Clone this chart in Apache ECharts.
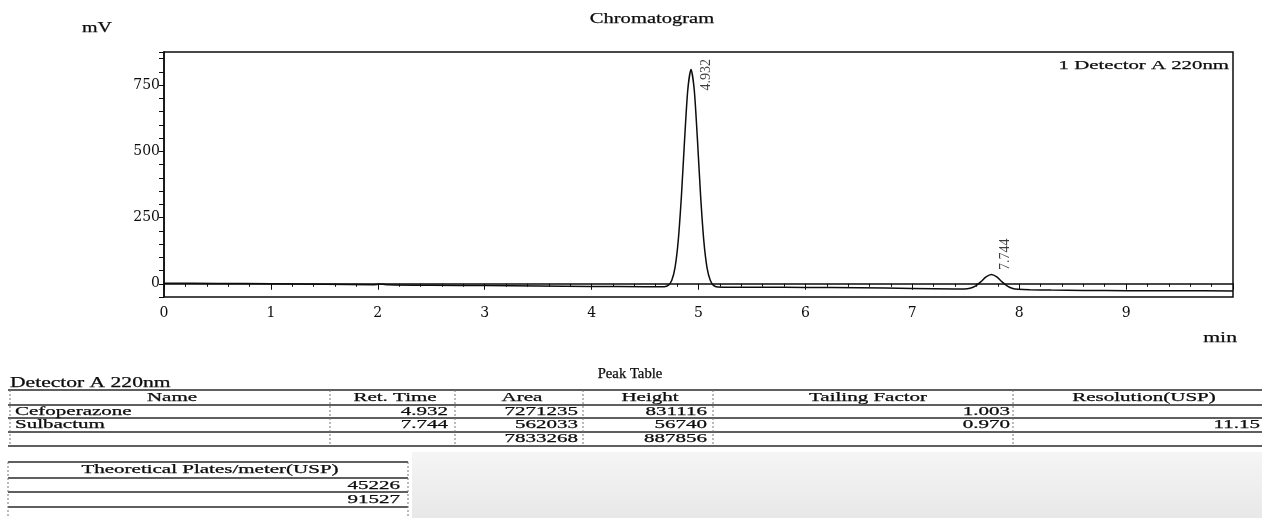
<!DOCTYPE html>
<html><head><meta charset="utf-8">
<script src="https://cdn.jsdelivr.net/npm/echarts@6/dist/echarts.min.js"></script>
<style>html,body{margin:0;padding:0;background:#fff}#c{width:1262px;height:518px}</style>
</head><body><div id="c"></div>
<script>
// ---- chromatogram trace ----
const traceTime = [0, 0.5, 1.0, 1.5, 1.95, 2.03, 2.1, 2.5, 3.0, 3.5, 4.0, 4.5,
  4.68, 4.72, 4.75, 4.78, 4.81, 4.84, 4.87, 4.90, 4.93, 4.96, 4.99, 5.02, 5.05, 5.08, 5.11, 5.14, 5.18,
  5.3, 5.6, 6.0, 6.5, 7.0, 7.4,
  7.49, 7.54, 7.59, 7.64, 7.69, 7.74, 7.79, 7.84, 7.89, 7.94, 7.99,
  8.1, 8.3, 8.6, 9.0, 9.5, 10.0];
const traceMV = [2, 1, 0, -2, -4, -1, -4, -6, -7, -8, -10, -11,
  -11, -5, 13, 60, 161, 330, 545, 733, 809, 733, 545, 330, 161, 60, 13, -6, -12,
  -13, -13, -14, -15, -18, -20,
  -20, -17, -9, 7, 26, 35, 26, 7, -9, -18, -21,
  -23, -24, -25, -26, -26, -27];
const peakTimes = [4.932, 7.744];
const peakApexMV = [809, 35];
const peakLabels = ['4.932', '7.744'];

// ---- texts ----
const chartTitle = 'Chromatogram';
const yUnit = 'mV';
const xUnit = 'min';
const traceName = '1 Detector A 220nm';
const tableTitle = 'Peak Table';
const detectorName = 'Detector A 220nm';
const tableHeaders = ['Name', 'Ret. Time', 'Area', 'Height', 'Tailing Factor', 'Resolution(USP)'];
const peakNames = ['Cefoperazone', 'Sulbactum', ''];
const retTimes = ['4.932', '7.744', ''];
const areas = ['7271235', '562033', '7833268'];
const heights = ['831116', '56740', '887856'];
const tailing = ['1.003', '0.970', ''];
const resolution = ['', '11.15', ''];
const platesHeader = 'Theoretical Plates/meter(USP)';
const plates = ['45226', '91527', ''];

const INK = '#0d0d0d';
const SERIF = '"Liberation Serif", "Times New Roman", serif';

function txt(text, x, y, size, align, sx) {
  return { type: 'text', x: x, y: y, scaleX: sx || 1, z: 10,
    style: { text: text, font: size + 'px ' + SERIF, fill: INK,
      stroke: INK, lineWidth: 0.25,
      align: align || 'left', textAlign: align || 'left',
      verticalAlign: 'middle', textVerticalAlign: 'middle' } };
}
function ln(x1, y1, x2, y2, dashed) {
  return { type: 'line', z: 5, shape: { x1: x1, y1: y1, x2: x2, y2: y2 },
    style: { stroke: dashed ? '#777' : '#2a2a2a', lineWidth: dashed ? 1 : 1.3, lineDash: dashed ? [2, 2] : null } };
}

const graphics = [];
// scan shadow
graphics.push({ type: 'rect', z: 0, shape: { x: 412, y: 452, width: 850, height: 66 },
  style: { fill: new echarts.graphic.LinearGradient(0, 0, 0, 1, [
    { offset: 0, color: '#f5f5f5' }, { offset: 1, color: '#e8e8e8' }]) } });

graphics.push(txt(chartTitle, 652, 19, 15, 'center', 1.37));
graphics.push(txt(yUnit, 82, 28, 14, 'left', 1.43));
graphics.push(txt(xUnit, 1237, 338, 15, 'right', 1.45));
graphics.push(txt(traceName, 1229, 66, 13, 'right', 1.6));

// peak table
graphics.push(txt(tableTitle, 630, 374, 14, 'center', 1.05));
graphics.push(txt(detectorName, 10, 383, 14, 'left', 1.54));
const rowLines = [390, 405, 418, 432, 446];
rowLines.forEach(y => graphics.push(ln(8, y, 1262, y)));
const colLines = [10, 330, 455, 583, 713, 1013];
colLines.forEach(x => graphics.push(ln(x, 390, x, 446, true)));
const headerCenters = [172, 395, 522, 650, 868, 1144];
const TS = 1.75;
tableHeaders.forEach((h, i) => graphics.push(txt(h, headerCenters[i], 398, 12, 'center', TS)));
const rowY = [412, 425, 439];
const colRight = [448, 578, 707, 1010, 1260];
const colData = [retTimes, areas, heights, tailing, resolution];
for (let r = 0; r < 3; r++) {
  if (peakNames[r]) graphics.push(txt(peakNames[r], 15, rowY[r], 12, 'left', TS));
  colData.forEach((arr, c) => { if (arr[r]) graphics.push(txt(arr[r], colRight[c], rowY[r], 12, 'right', TS)); });
}
// plates table
const pLines = [462, 478, 492, 507];
pLines.forEach(y => graphics.push(ln(8, y, 408, y)));
graphics.push(ln(8, 462, 8, 518, true));
graphics.push(ln(408, 462, 408, 518, true));
graphics.push(txt(platesHeader, 210, 470, 12, 'center', TS));
const pRowY = [486, 500, 513];
plates.forEach((v, i) => { if (v) graphics.push(txt(v, 400, pRowY[i], 12, 'right', TS)); });

const chart = echarts.init(document.getElementById('c'), null, { renderer: 'canvas' });
chart.setOption({
  backgroundColor: '#ffffff',
  animation: false,
  grid: { left: 164, right: 29, top: 52, bottom: 221, show: true, borderColor: INK, borderWidth: 1.5, backgroundColor: 'transparent' },
  xAxis: {
    type: 'value', min: 0, max: 10, interval: 1,
    axisLine: { show: true, lineStyle: { color: INK, width: 1.5 } },
    axisTick: { show: true, length: 6, lineStyle: { color: INK } },
    minorTick: { show: true, splitNumber: 5, length: 3, lineStyle: { color: INK } },
    splitLine: { show: false },
    axisLabel: { margin: 9, color: INK, fontFamily: '"DejaVu Serif", serif', fontSize: 14,
      formatter: v => (v < 10 ? String(v) : '') }
  },
  yAxis: {
    type: 'value', min: -50, max: 875, interval: 50,
    axisLine: { show: true, lineStyle: { color: INK, width: 1.5 } },
    axisTick: { show: true, length: 5, lineStyle: { color: INK } },
    splitLine: { show: false },
    axisLabel: { margin: 4, color: INK, fontFamily: '"DejaVu Serif", serif', fontSize: 14,
      formatter: v => ([0, 250, 500, 750].indexOf(v) >= 0 ? String(v) : '') }
  },
  series: [
    { type: 'line', data: traceTime.map((t, i) => [t, traceMV[i]]), showSymbol: false, smooth: 0.25,
      lineStyle: { color: INK, width: 1.5 }, z: 3 },
    { type: 'scatter', symbolSize: 1, itemStyle: { color: 'rgba(0,0,0,0)' }, z: 4,
      data: peakTimes.map((t, i) => ({
        value: [t, peakApexMV[i]],
        label: i === 0
          ? { show: true, formatter: peakLabels[i], rotate: 90, position: [16, -10], align: 'right', verticalAlign: 'middle',
              color: INK, fontFamily: SERIF, fontSize: 14 }
          : { show: true, formatter: peakLabels[i], rotate: 90, position: [14, -4], align: 'left', verticalAlign: 'middle',
              color: INK, fontFamily: SERIF, fontSize: 14 }
      })) }
  ],
  graphic: { elements: graphics }
});
</script></body></html>
